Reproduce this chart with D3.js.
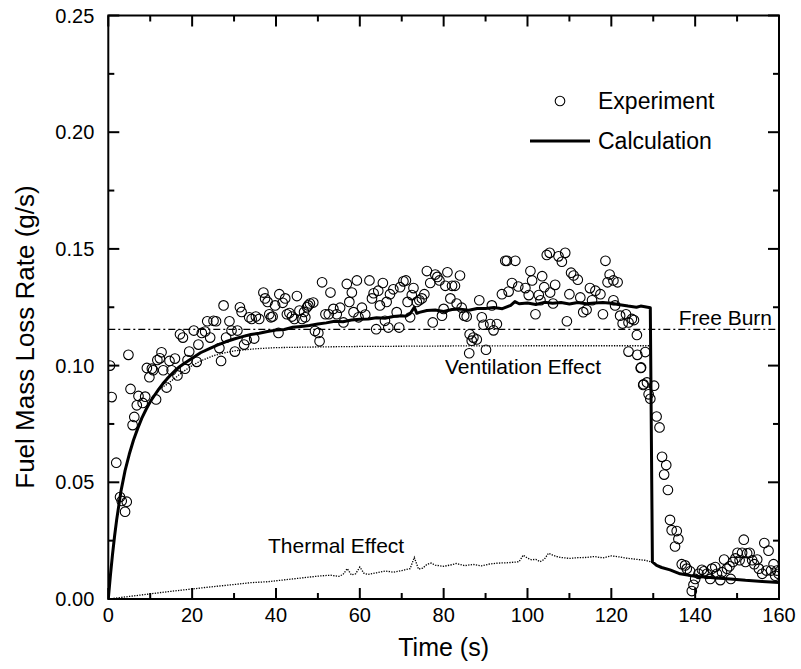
<!DOCTYPE html>
<html>
<head>
<meta charset="utf-8">
<script src="https://cdn.jsdelivr.net/npm/d3@7"></script>
<style>
  html, body { margin: 0; padding: 0; background: #fff; }
  svg { display: block; font-family: "Liberation Sans", Arial, sans-serif; }
</style>
</head>
<body>
<svg id="chart" width="801" height="669"></svg>
<script>
// ---------------- DATA ----------------
const expTime = [0.4,0.8,1.9,2.8,3.2,4.0,4.4,4.8,5.3,5.8,6.2,6.8,7.2,8.2,8.8,9.2,9.8,10.4,10.7,11.4,11.7,12.3,12.7,13.1,13.9,14.6,15.1,15.9,16.5,17.1,17.8,18.3,18.9,19.3,20.4,21.1,21.5,22.3,23.1,23.6,24.3,25.1,25.7,26.5,26.9,27.5,28.1,28.9,29.4,30.2,30.8,31.4,31.8,32.4,33.0,33.6,34.2,34.8,35.2,36.0,37.0,37.4,38.0,38.4,38.8,39.2,39.8,40.6,40.8,41.6,42.2,42.6,43.2,43.8,44.4,45.0,45.6,46.2,46.7,47.0,47.4,47.7,48.1,48.9,49.3,50.1,50.4,51.0,51.8,52.6,53.0,53.7,54.5,55.3,56.1,56.9,57.5,58.1,58.5,59.3,59.7,60.5,61.3,62.3,62.9,63.3,63.9,64.4,64.8,65.5,66.0,66.4,66.8,67.2,68.0,68.8,69.4,69.6,70.4,71.0,71.4,72.0,72.4,72.8,73.6,74.2,74.8,75.4,76.0,76.8,77.4,78.0,78.5,79.0,79.6,80.0,80.4,80.9,81.6,82.0,82.7,83.1,83.9,84.3,84.9,85.5,86.1,86.2,86.7,87.1,87.9,88.5,89.1,89.5,90.1,91.1,91.5,91.9,92.7,93.9,94.7,95.1,95.5,96.3,97.1,97.8,99.5,100.3,100.7,101.1,101.9,102.7,103.1,103.5,104.0,104.6,105.3,105.4,106.1,106.6,107.4,108.2,109.0,109.4,110.0,110.4,111.0,112.0,112.6,113.3,114.1,114.9,115.4,116.2,117.4,118.0,118.6,119.1,119.6,120.5,120.5,120.9,121.5,122.1,122.7,123.5,124.1,124.1,124.9,125.4,126.1,126.2,127.0,127.1,127.6,127.7,128.1,128.5,128.9,129.3,130.2,130.8,131.5,132.1,132.6,133.1,133.5,134.0,134.4,135.2,135.6,136.0,136.8,137.6,138.0,138.8,139.2,139.6,140.0,140.8,141.6,142.1,142.8,143.6,144.0,144.8,145.2,146.0,146.4,146.9,147.6,148.2,148.5,149.0,149.6,150.1,150.6,151.2,151.6,152.0,152.4,153.0,153.6,154.1,154.8,155.2,156.0,156.5,157.0,157.5,158.1,158.7,159.1,159.5,159.9];
const expValue = [0.100,0.0865,0.0584,0.0437,0.042,0.0374,0.0417,0.1046,0.090,0.0745,0.078,0.083,0.087,0.084,0.0867,0.099,0.095,0.0987,0.098,0.0855,0.1024,0.1031,0.1057,0.098,0.0906,0.102,0.098,0.103,0.0958,0.1134,0.112,0.0987,0.1024,0.106,0.115,0.1016,0.109,0.114,0.1146,0.119,0.112,0.1192,0.119,0.1075,0.102,0.1258,0.112,0.119,0.115,0.106,0.115,0.125,0.123,0.109,0.111,0.1207,0.120,0.1116,0.121,0.120,0.1313,0.1288,0.1273,0.122,0.1207,0.121,0.1258,0.114,0.1306,0.1269,0.1288,0.122,0.1225,0.121,0.120,0.1298,0.1236,0.120,0.123,0.1207,0.125,0.1258,0.1266,0.127,0.1148,0.114,0.1104,0.1357,0.122,0.122,0.1313,0.1243,0.122,0.1248,0.1185,0.135,0.1273,0.1313,0.1229,0.1365,0.1207,0.1248,0.1219,0.1365,0.1288,0.131,0.1156,0.1321,0.1258,0.1354,0.1192,0.1273,0.1163,0.1306,0.1327,0.1229,0.1163,0.1336,0.1361,0.1365,0.1273,0.1207,0.1302,0.1332,0.1273,0.128,0.1288,0.1306,0.1405,0.1354,0.1185,0.139,0.138,0.1365,0.1214,0.1243,0.1342,0.140,0.1288,0.1342,0.1342,0.1266,0.1386,0.1248,0.1214,0.121,0.1053,0.1134,0.1107,0.112,0.1112,0.128,0.1207,0.1175,0.1068,0.1178,0.1258,0.1151,0.1178,0.1306,0.1449,0.1449,0.1317,0.1354,0.1449,0.1339,0.1332,0.1302,0.1405,0.1365,0.122,0.1302,0.128,0.1383,0.1336,0.1474,0.1483,0.1313,0.1266,0.1346,0.1468,0.1445,0.1483,0.119,0.1306,0.1398,0.1386,0.1368,0.1292,0.1229,0.1239,0.1332,0.128,0.1321,0.1306,0.122,0.1449,0.1357,0.139,0.1365,0.128,0.1258,0.1357,0.1214,0.118,0.122,0.1185,0.106,0.120,0.1195,0.1131,0.1046,0.099,0.0992,0.0917,0.092,0.1058,0.0928,0.0877,0.0858,0.0914,0.0782,0.0735,0.0609,0.0533,0.0574,0.0467,0.0339,0.0295,0.0225,0.0291,0.0257,0.0149,0.0144,0.013,0.0119,0.0034,0.0061,0.0086,0.0108,0.0125,0.0119,0.0108,0.0086,0.013,0.0137,0.0108,0.0081,0.0115,0.0169,0.013,0.014,0.0086,0.0159,0.0174,0.0198,0.0166,0.0198,0.0254,0.0159,0.0196,0.0198,0.0166,0.0149,0.0169,0.013,0.0108,0.024,0.0122,0.0207,0.0122,0.0149,0.010,0.0122,0.0108];

const calcTime  = [0,0.5,1,1.5,2,3,4,5,6,7,8,9,10,11,12,13,14,15,16,17,18,19,20,22,24,26,28,30,32,34,36,38,40,42,44,46,48,50,52,54,56,58,60,62,64,66,68,70,71,72,73,73.6,74.2,76,78,80,82,84,86,88,90,92,94,96,97,98,100,102,104,106,108,110,112,114,116,118,120,122,124,126,127,128,129.3,129.8,130.8,132,134,136.4,140,145,148.4,152,156,160];
const calcValue = [0,0.010,0.019,0.027,0.034,0.046,0.055,0.062,0.068,0.073,0.0775,0.0812,0.0845,0.0872,0.0898,0.0922,0.0943,0.0962,0.098,0.0995,0.1008,0.102,0.1032,0.1055,0.1072,0.1088,0.1102,0.1114,0.1124,0.1133,0.1139,0.1146,0.1152,0.1155,0.1164,0.1168,0.1172,0.1178,0.1183,0.1190,0.1188,0.1195,0.1199,0.1200,0.1205,0.1203,0.1210,0.1214,0.1212,0.1222,0.1250,0.1224,0.1228,0.1236,0.1238,0.1232,0.1240,0.1242,0.1237,0.1245,0.1245,0.1249,0.1244,0.1258,0.1274,0.1265,0.1268,0.1262,0.1271,0.1267,0.1270,0.1264,0.1270,0.1265,0.1268,0.1270,0.1267,0.1261,0.1255,0.1250,0.1255,0.1252,0.1248,0.0159,0.0144,0.0135,0.0125,0.0108,0.0097,0.0090,0.0086,0.0080,0.0075,0.0071];

const ventTime  = [0,1,2,3,4,5,6,7,8,9,10,11,12,13,14,16,18,20,22,25,28,30,35,40,50,60,70,80,100,120,129.5];
const ventValue = [0,0.019,0.034,0.046,0.055,0.062,0.068,0.073,0.0775,0.0812,0.0845,0.0872,0.0895,0.0908,0.092,0.0948,0.0976,0.1000,0.1020,0.1042,0.1056,0.1063,0.1072,0.1077,0.1080,0.1082,0.1083,0.1084,0.1085,0.1085,0.1085];

const thermTime  = [0,5,10,15,20,25,30,34,38,40,44,48,50,53,55,56,57,58,59,60,61,62,64,66,68,70,72,73,74,75,76,77,78,80,82,83,85,87,89,91,93,95,97,98,99,100,101,102,103,104,105,106,107,108,110,112,114,116,118,120,122,124,126,128,129.7];
const thermValue = [0,0.0011,0.0022,0.0033,0.0043,0.0053,0.0062,0.0070,0.0074,0.0078,0.0086,0.0094,0.0098,0.0102,0.0097,0.0105,0.0130,0.0103,0.0108,0.0137,0.0110,0.0105,0.0112,0.0120,0.0115,0.0122,0.0130,0.0178,0.0128,0.0132,0.0148,0.0154,0.0145,0.0140,0.0147,0.0152,0.0143,0.0148,0.0142,0.0150,0.0154,0.0155,0.0158,0.0160,0.0188,0.0175,0.0168,0.0170,0.0160,0.0170,0.0196,0.0188,0.0182,0.0178,0.0174,0.0177,0.0178,0.0182,0.0176,0.0185,0.0180,0.0174,0.0170,0.0166,0.0158];

const freeBurn = 0.1155;
const xTicks = [0,20,40,60,80,100,120,140,160];
const xMinor = [10,30,50,70,90,110,130,150];
const yTicks = [0,0.05,0.10,0.15,0.20,0.25];
const yMinor = [0.025,0.075,0.125,0.175,0.225];
const legendLabels = ["Experiment","Calculation"];

// ---------------- LAYOUT ----------------
const svg = d3.select("#chart");
const L = 108.3, R = 779, T = 15.5, B = 599;
const x = d3.scaleLinear().domain([0,160]).range([L,R]);
const y = d3.scaleLinear().domain([0,0.25]).range([B,T]);

svg.append("defs").append("clipPath").attr("id","clip")
  .append("rect").attr("x",L).attr("y",T).attr("width",R-L).attr("height",B-T);
const plot = svg.append("g").attr("clip-path","url(#clip)");

plot.append("line")
  .attr("x1",x(0)).attr("x2",x(160)).attr("y1",y(freeBurn)).attr("y2",y(freeBurn))
  .attr("stroke","#000").attr("stroke-width",1.3).attr("stroke-dasharray","7,3,2,3");

const line = d3.line().x(d=>x(d[0])).y(d=>y(d[1]));
const zip = (a,b)=>a.map((t,i)=>[t,b[i]]);

plot.append("path").datum(zip(ventTime,ventValue))
  .attr("d",line).attr("fill","none").attr("stroke","#000")
  .attr("stroke-width",1.3).attr("stroke-dasharray","1.3,1.3");
plot.append("path").datum(zip(thermTime,thermValue))
  .attr("d",line).attr("fill","none").attr("stroke","#000")
  .attr("stroke-width",1.3).attr("stroke-dasharray","1.3,1.3");

plot.append("g").selectAll("circle").data(zip(expTime,expValue)).join("circle")
  .attr("cx",d=>x(d[0])).attr("cy",d=>y(d[1])).attr("r",4.8)
  .attr("fill","none").attr("stroke","#000").attr("stroke-width",1.1);

plot.append("path").datum(zip(calcTime,calcValue))
  .attr("d",line).attr("fill","none").attr("stroke","#000")
  .attr("stroke-width",3).attr("stroke-linejoin","round");

// ---------------- AXES ----------------
const ax = svg.append("g");
function tickLines(vals, len, side){
  vals.forEach(v=>{
    if(side==="bottom") ax.append("line").attr("x1",x(v)).attr("x2",x(v)).attr("y1",B).attr("y2",B-len);
    if(side==="top") ax.append("line").attr("x1",x(v)).attr("x2",x(v)).attr("y1",T).attr("y2",T+len);
    if(side==="left") ax.append("line").attr("x1",L).attr("x2",L+len).attr("y1",y(v)).attr("y2",y(v));
    if(side==="right") ax.append("line").attr("x1",R).attr("x2",R-len).attr("y1",y(v)).attr("y2",y(v));
  });
}
tickLines(xTicks,11,"bottom"); tickLines(xMinor,6,"bottom");
tickLines(xTicks,11,"top");    tickLines(xMinor,6,"top");
tickLines(yTicks,11,"left");   tickLines(yMinor,6,"left");
tickLines(yTicks,11,"right");  tickLines(yMinor,6,"right");
ax.selectAll("line").attr("stroke","#000").attr("stroke-width",2);

ax.append("rect").attr("x",L).attr("y",T).attr("width",R-L).attr("height",B-T)
  .attr("fill","none").attr("stroke","#000").attr("stroke-width",2);

svg.append("g").selectAll("text").data(xTicks).join("text")
  .attr("x",d=>x(d)).attr("y",B+23).attr("text-anchor","middle")
  .attr("font-size",20).text(d=>d3.format("d")(d));
svg.append("g").selectAll("text").data(yTicks).join("text")
  .attr("x",L-14).attr("y",d=>y(d)+7).attr("text-anchor","end")
  .attr("font-size",20).text(d=>d3.format(".2f")(d));

svg.append("text").attr("x",(L+R)/2).attr("y",B+57).attr("text-anchor","middle")
  .attr("font-size",25).text("Time (s)");
svg.append("text").attr("transform",`translate(34,337) rotate(-90)`)
  .attr("text-anchor","middle").attr("font-size",26).text("Fuel Mass Loss Rate (g/s)");

svg.append("text").attr("x",772).attr("y",325).attr("text-anchor","end").attr("font-size",21).text("Free Burn");
svg.append("text").attr("x",445).attr("y",374).attr("font-size",21).text("Ventilation Effect");
svg.append("text").attr("x",268).attr("y",553).attr("font-size",21).text("Thermal Effect");

const lg = svg.append("g");
lg.append("circle").attr("cx",560).attr("cy",101).attr("r",4.8).attr("fill","none").attr("stroke","#000").attr("stroke-width",1.1);
lg.append("text").attr("x",598).attr("y",109).attr("font-size",23).text(legendLabels[0]);
lg.append("line").attr("x1",530).attr("x2",590).attr("y1",141).attr("y2",141).attr("stroke","#000").attr("stroke-width",3);
lg.append("text").attr("x",598).attr("y",149).attr("font-size",23).text(legendLabels[1]);
</script>
</body>
</html>
